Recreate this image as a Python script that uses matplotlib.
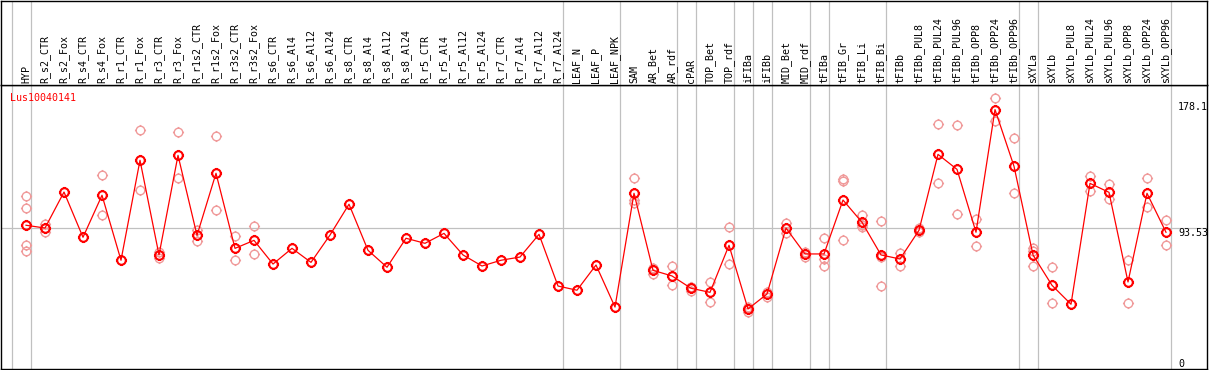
import matplotlib
matplotlib.use('Agg')
import matplotlib.pyplot as plt
from matplotlib.path import Path
from matplotlib.transforms import blended_transform_factory

title = "Lus10040141"
categories = [
    "HYP", "R_s2_CTR", "R_s2_Fox", "R_s4_CTR", "R_s4_Fox", "R_r1_CTR", "R_r1_Fox",
    "R_r3_CTR", "R_r3_Fox", "R_r1s2_CTR", "R_r1s2_Fox", "R_r3s2_CTR", "R_r3s2_Fox",
    "R_s6_CTR", "R_s6_Al4", "R_s6_Al12", "R_s6_Al24", "R_s8_CTR", "R_s8_Al4",
    "R_s8_Al12", "R_s8_Al24", "R_r5_CTR", "R_r5_Al4", "R_r5_Al12", "R_r5_Al24",
    "R_r7_CTR", "R_r7_Al4", "R_r7_Al12", "R_r7_Al24", "LEAF_N", "LEAF_P", "LEAF_NPK",
    "SAM", "AR_Bet", "AR_rdf", "cPAR", "TOP_Bet", "TOP_rdf", "iFIBa", "iFIBb",
    "MID_Bet", "MID_rdf", "tFIBa", "tFIB_Gr", "tFIB_Li", "tFIB_Bi", "tFIBb",
    "tFIBb_PUL8", "tFIBb_PUL24", "tFIBb_PUL96", "tFIBb_OPP8", "tFIBb_OPP24",
    "tFIBb_OPP96", "sXYLa", "sXYLb", "sXYLb_PUL8", "sXYLb_PUL24", "sXYLb_PUL96",
    "sXYLb_OPP8", "sXYLb_OPP24", "sXYLb_OPP96",
]
means = [
    95.5, 93.5, 119.2, 86.9, 116.9, 70.5, 141.9, 74.3, 145.4, 88.3, 132.6, 79.0, 84.7,
    67.8, 79.0, 69.0, 88.5, 110.5, 77.6, 65.5, 86.2, 82.6, 89.7, 74.3, 66.4,
    70.5, 72.8, 89.0, 52.1, 49.1, 67.1, 37.1,
    118.3, 63.3, 59.3, 50.5, 47.6, 81.2, 35.7, 46.4, 93.5, 75.0, 75.0, 113.5, 97.6,
    74.3, 71.4, 91.9, 146.1, 135.4, 90.5, 178.1, 137.6, 74.3, 52.6, 39.1, 125.4,
    119.0, 55.0, 118.3, 90.5,
]
replicates = [
    [116.2, 107.6, 81.4, 76.9], [96.4, 90.9, 93.3], [], [], [131.2, 102.6], [],
    [163.3, 120.4], [72.3, 76.3], [161.9, 129.0], [92.1, 84.5], [159.0, 106.2],
    [87.6, 70.5], [94.7, 74.8],
    [], [], [], [], [], [], [], [], [], [], [], [], [], [], [], [], [], [], [],
    [129.0, 113.5, 111.6], [64.8, 60.9, 64.1], [66.1, 52.5], [48.8, 51.2, 51.5],
    [55.2, 40.5], [94.0, 67.8], [33.8, 37.3, 36.0], [48.1, 44.5], [97.3, 90.2],
    [76.6, 73.0], [86.4, 71.6, 66.2], [128.5, 127.1, 85.0], [102.8, 94.5, 95.5],
    [98.5, 52.1, 72.6], [75.5, 66.6], [93.3, 90.5], [167.6, 125.4], [166.9, 103.3],
    [99.7, 80.5], [186.1, 170.1], [157.6, 118.3], [79.5, 77.2, 66.2], [65.5, 39.8],
    [], [130.4, 119.9], [124.9, 114.0], [70.5, 39.8], [129.0, 108.3], [99.2, 81.2],
]
group_ends = [-1, 0, 28, 31, 34, 35, 37, 38, 39, 41, 42, 45, 52, 53, 60]
ref_value = 93.53
max_value = 178.1
min_value = 0

W, H, DPI = 1209, 370, 100
fig = plt.figure(figsize=(W / DPI, H / DPI), dpi=DPI)


def px_rect(x0, y0, x1, y1):
    return [x0 / W, 1 - y1 / H, (x1 - x0) / W, (y1 - y0) / H]


ax = fig.add_axes(px_rect(1, 85, 1207, 369))
hax = fig.add_axes(px_rect(1, 0.5, 1207, 85), sharex=ax)

mono = "DejaVu Sans Mono"
fs = 7.2

ax.set_xlim((1 - 26) / 19, (1207 - 26) / 19)
ax.set_ylim((359 - 369) / 1.4006, (359 - 85) / 1.4006)
hax.set_ylim(0, 1)

for a in (ax, hax):
    a.set_xticks([])
    a.set_yticks([])
    for s in a.spines.values():
        s.set_color('black')
        s.set_linewidth(1.0)

grid_col = '#c0c0c0'
for g in group_ends:
    ax.axvline(g + 0.24, color=grid_col, lw=0.9, zorder=1)
    hax.axvline(g + 0.24, color=grid_col, lw=0.9, zorder=1)
ax.axhline(ref_value, color=grid_col, lw=0.9, zorder=1)

# marker: circle with small ticks
circle = Path.unit_circle()
tl = 1.3
tv = [(0, 1), (0, tl), (0, -1), (0, -tl), (1, 0), (tl, 0), (-1, 0), (-tl, 0)]
tc = [Path.MOVETO, Path.LINETO] * 4
marker = Path.make_compound_path(circle, Path(tv, tc))

xs = list(range(len(categories)))
for i, reps in enumerate(replicates):
    if reps:
        ax.plot([i] * len(reps), reps, ls='none', marker=marker, ms=8.0,
                mfc='none', mec='#f09a9a', mew=1.0, zorder=2)
ax.plot(xs, means, color='#ff0000', lw=0.9, marker=marker, ms=8.0,
        mfc='none', mec='#ff0000', mew=1.5, zorder=3)

# header labels
htr = blended_transform_factory(hax.transData, hax.transAxes)
for i, c in enumerate(categories):
    hax.text(i, 0.025, c, rotation=90, ha='center', va='bottom',
             family=mono, fontsize=fs, color='black', transform=htr)

# title
ax.text(9 / 1206, 1 - 8 / 284, title, color='#ff0000', family=mono, fontsize=fs,
        ha='left', va='top', transform=ax.transAxes)

# right value labels
rtr = blended_transform_factory(ax.transAxes, ax.transData)
xr = (1178 - 1) / 1206
ax.text(xr, min_value, "0", family=mono, fontsize=fs, ha='left', va='top', transform=rtr)
ax.text(xr, ref_value, f"{ref_value:g}", family=mono, fontsize=fs, ha='left', va='top',
        transform=rtr)
ax.annotate(f"{max_value:g}", xy=(xr, max_value), xycoords=rtr, xytext=(0, 3),
            textcoords='offset pixels', family=mono, fontsize=fs, ha='left', va='center',
            annotation_clip=False)

fig.savefig('out.png', dpi=DPI)
